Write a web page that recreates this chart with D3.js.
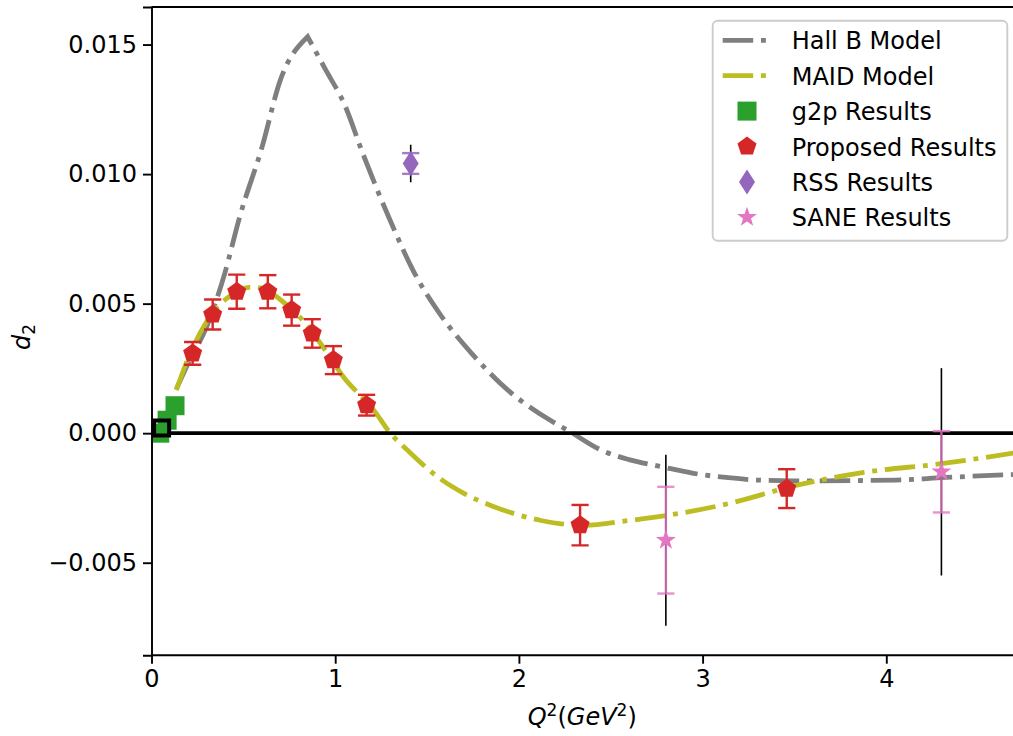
<!DOCTYPE html>
<html>
<head>
<meta charset="utf-8">
<script src="https://d3js.org/d3.v7.min.js"></script>
<style>
  body { margin: 0; background: #fff; }
  text { font-family: "DejaVu Sans", sans-serif; }
</style>
</head>
<body>
<script>
// model curves (Hall B has a sharp peak at 0.85, drawn as two smooth halves)
const hallRiseX = [0.135, 0.2, 0.3, 0.4, 0.48, 0.6, 0.7, 0.85];
const hallRiseY = [0.0017, 0.0027, 0.0041, 0.0062, 0.00835, 0.0110, 0.0136, 0.0153];
const hallFallX = [0.85, 0.95, 1.05, 1.15, 1.3, 1.43, 1.57, 1.74, 1.94, 2.14, 2.28, 2.45, 2.6, 2.78, 2.95, 3.14, 3.3, 3.5, 4.05, 4.32, 4.75];
const hallFallY = [0.0153, 0.0140, 0.0127, 0.0108, 0.0082, 0.0062, 0.0046, 0.0031, 0.00166, 0.00063, 0.00005, -0.00066, -0.00102, -0.0013, -0.00155, -0.00172, -0.00181, -0.00184, -0.00181, -0.00171, -0.00158];
const maidX = [0.135, 0.2, 0.3, 0.36, 0.41, 0.53, 0.6, 0.7, 0.83, 0.92, 1.045, 1.21, 1.3, 1.4, 1.56, 1.7, 1.85, 2.0, 2.12, 2.23, 2.35, 2.59, 2.81, 3.14, 3.5, 3.87, 4.31, 4.75];
const maidY = [0.00166, 0.0029, 0.0043, 0.00488, 0.0052, 0.00563, 0.0056, 0.00516, 0.0043, 0.00346, 0.00217, 0.00089, 0.0, -0.0007, -0.0017, -0.00232, -0.0028, -0.00316, -0.00337, -0.0035, -0.00356, -0.00338, -0.00317, -0.00272, -0.00203, -0.00152, -0.00117, -0.0007];

// measurements
const g2pX = [0.045, 0.085, 0.128];
const g2pY = [0.0000, 0.0005, 0.00106];
const boxX = [0.055];
const boxY = [0.0002];
const propX = [0.224, 0.333, 0.464, 0.633, 0.763, 0.875, 0.990, 1.171, 2.333, 3.458];
const propY = [0.00308, 0.00458, 0.00546, 0.00546, 0.00475, 0.00385, 0.00282, 0.00108, -0.00355, -0.00214];
const propErr = [0.00044, 0.00058, 0.00066, 0.00064, 0.0006, 0.00055, 0.00054, 0.0004, 0.00078, 0.00075];
const rssX = [1.411];
const rssY = [0.01041];
const rssErr = [0.0004];
const rssSys = [0.00072];
const saneX = [2.8, 4.3];
const saneY = [-0.00413, -0.00149];
const saneErr = [0.00206, 0.00157];
const saneSys = [0.0033, 0.004];

const xTicks = [0, 1, 2, 3, 4];
const yTicks = [-0.005, 0, 0.005, 0.01, 0.015];
const legendLabels = ["Hall B Model", "MAID Model", "g2p Results", "Proposed Results", "RSS Results", "SANE Results"];

const W = 1013, H = 736;
const mLeft = 151.5, mTop = 7, mBottom = 655.2;
const x = d3.scaleLinear().domain([0, 4.7]).range([mLeft, mLeft + 4.7 * 183.7]);
const y = d3.scaleLinear().domain([-0.00857, 0.01645]).range([mBottom, mTop]);

const gray = "#7f7f7f", olive = "#bcbd22", green = "#2ca02c", red = "#d62728", purple = "#9467bd", pink = "#e377c2";
const dash = "30.5,7.8,4.9,7.8";

const svg = d3.select("body").append("svg").attr("width", W).attr("height", H);

svg.append("defs").append("clipPath").attr("id", "clip")
  .append("rect").attr("x", mLeft).attr("y", mTop).attr("width", x.range()[1] - mLeft).attr("height", mBottom - mTop);

const plot = svg.append("g").attr("clip-path", "url(#clip)");

const line = d3.line().x(d => x(d[0])).y(d => y(d[1])).curve(d3.curveMonotoneX);

const hallPath = line(d3.zip(hallRiseX, hallRiseY)) + line(d3.zip(hallFallX, hallFallY)).replace(/^M[^CL]*/, "");
plot.append("path").attr("d", hallPath)
  .attr("fill", "none").attr("stroke", gray).attr("stroke-width", 4.8).attr("stroke-dasharray", dash);
plot.append("path").datum(d3.zip(maidX, maidY)).attr("d", line)
  .attr("fill", "none").attr("stroke", olive).attr("stroke-width", 4.8).attr("stroke-dasharray", dash);

// zero line
plot.append("line").attr("x1", mLeft).attr("x2", W + 5).attr("y1", y(0)).attr("y2", y(0))
  .attr("stroke", "#000").attr("stroke-width", 3.6);

function pentagon(r) {
  const pts = d3.range(5).map(k => {
    const a = -Math.PI / 2 + k * 2 * Math.PI / 5;
    return [r * Math.cos(a), r * Math.sin(a)];
  });
  return "M" + pts.map(p => p.join(",")).join("L") + "Z";
}
function star(R, r) {
  const pts = d3.range(10).map(k => {
    const a = -Math.PI / 2 + k * Math.PI / 5;
    const rr = k % 2 ? r : R;
    return [rr * Math.cos(a), rr * Math.sin(a)];
  });
  return "M" + pts.map(p => p.join(",")).join("L") + "Z";
}
function diamond(w, h) {
  return `M0,${-h}L${w},0L0,${h}L${-w},0Z`;
}

function errorbar(g, cx, cy, err, color, width, cap) {
  g.append("line").attr("x1", x(cx)).attr("x2", x(cx)).attr("y1", y(cy - err)).attr("y2", y(cy + err))
    .attr("stroke", color).attr("stroke-width", width);
  if (cap) {
    [cy - err, cy + err].forEach(v => {
      g.append("line").attr("x1", x(cx) - cap).attr("x2", x(cx) + cap).attr("y1", y(v)).attr("y2", y(v))
        .attr("stroke", color).attr("stroke-width", width);
    });
  }
}

// g2p
g2pX.forEach((v, i) => {
  plot.append("rect").attr("x", x(v) - 9.5).attr("y", y(g2pY[i]) - 9.5).attr("width", 19).attr("height", 19).attr("fill", green);
});
boxX.forEach((v, i) => {
  plot.append("rect").attr("x", x(v) - 7.5).attr("y", y(boxY[i]) - 7.5).attr("width", 15).attr("height", 15)
    .attr("fill", "none").attr("stroke", "#000").attr("stroke-width", 4);
});

// proposed
propX.forEach((v, i) => {
  errorbar(plot, v, propY[i], propErr[i], red, 2.4, 8.6);
  plot.append("path").attr("d", pentagon(10)).attr("transform", `translate(${x(v)},${y(propY[i])})`).attr("fill", red);
});

// RSS
rssX.forEach((v, i) => {
  errorbar(plot, v, rssY[i], rssSys[i], "#000", 1.6, 0);
  const g = plot.append("g").attr("opacity", 0.85);
  errorbar(g, v, rssY[i], rssErr[i], purple, 2.4, 8.6);
  plot.append("path").attr("d", diamond(8, 12.5)).attr("transform", `translate(${x(v)},${y(rssY[i])})`).attr("fill", purple);
});

// SANE
saneX.forEach((v, i) => {
  errorbar(plot, v, saneY[i], saneSys[i], "#000", 1.6, 0);
  const g = plot.append("g").attr("opacity", 0.8);
  errorbar(g, v, saneY[i], saneErr[i], pink, 2.4, 8.6);
  plot.append("path").attr("d", star(10.5, 4.2)).attr("transform", `translate(${x(v)},${y(saneY[i])})`).attr("fill", pink);
});

// axes
const fmtY = d3.format(".3f");
const ax = svg.append("g").attr("transform", `translate(0,${mBottom})`)
  .call(d3.axisBottom(x).tickValues(xTicks).tickFormat(d3.format("d")).tickSizeOuter(0).tickSize(8.5).tickPadding(6));
const ay = svg.append("g").attr("transform", `translate(${mLeft},0)`)
  .call(d3.axisLeft(y).tickValues(yTicks).tickFormat(fmtY).tickSizeOuter(0).tickSize(8.5).tickPadding(6));
[ax, ay].forEach(a => {
  a.selectAll("path.domain").attr("stroke", "#000").attr("stroke-width", 1.9);
  a.selectAll(".tick line").attr("stroke", "#000").attr("stroke-width", 1.9);
  a.selectAll(".tick text").attr("font-size", 24).attr("fill", "#000").style("font-family", "DejaVu Sans");
});
ax.select("path.domain").attr("d", `M${mLeft},0H${W + 5}`);
svg.append("line").attr("x1", mLeft).attr("x2", W + 5).attr("y1", mTop).attr("y2", mTop)
  .attr("stroke", "#000").attr("stroke-width", 1.9);

// axis labels
const xl = svg.append("text").attr("x", (mLeft + W) / 2).attr("y", 725).attr("text-anchor", "middle").attr("font-size", 24);
xl.append("tspan").attr("font-style", "italic").text("Q");
xl.append("tspan").attr("font-size", 17).attr("dy", -9).text("2");
xl.append("tspan").attr("dy", 9).text("(");
xl.append("tspan").attr("font-style", "italic").text("GeV");
xl.append("tspan").attr("font-size", 17).attr("dy", -9).text("2");
xl.append("tspan").attr("dy", 9).text(")");

const yl = svg.append("text").attr("transform", "translate(30,337) rotate(-90)").attr("text-anchor", "middle").attr("font-size", 24);
yl.append("tspan").attr("font-style", "italic").text("d");
yl.append("tspan").attr("font-size", 17).attr("dy", 5).text("2");

// legend
const lg = svg.append("g");
lg.append("rect").attr("x", 712.7).attr("y", 20.7).attr("width", 294.6).attr("height", 220).attr("rx", 5)
  .attr("fill", "#fff").attr("fill-opacity", 0.8).attr("stroke", "#cccccc").attr("stroke-width", 1.9);
legendLabels.forEach((lab, i) => {
  const cy = 40.3 + i * 35.4;
  const cx = 747;
  if (i < 2) {
    lg.append("line").attr("x1", 722.7).attr("x2", 771.3).attr("y1", cy).attr("y2", cy)
      .attr("stroke", i === 0 ? gray : olive).attr("stroke-width", 4.8).attr("stroke-dasharray", dash);
  } else if (i === 2) {
    lg.append("rect").attr("x", cx - 9.5).attr("y", cy - 9.5).attr("width", 19).attr("height", 19).attr("fill", green);
  } else if (i === 3) {
    lg.append("path").attr("d", pentagon(10)).attr("transform", `translate(${cx},${cy})`).attr("fill", red);
  } else if (i === 4) {
    lg.append("path").attr("d", diamond(8, 12.5)).attr("transform", `translate(${cx},${cy})`).attr("fill", purple);
  } else {
    lg.append("path").attr("d", star(10.5, 4.2)).attr("transform", `translate(${cx},${cy})`).attr("fill", pink);
  }
  lg.append("text").attr("x", 791.7).attr("y", cy + 9).attr("font-size", 24).attr("fill", "#000").text(lab);
});
</script>
</body>
</html>
